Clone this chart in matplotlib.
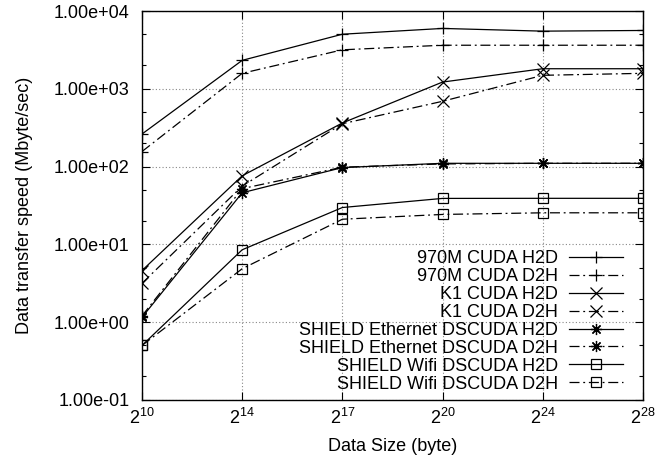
import matplotlib
matplotlib.use("Agg")
import matplotlib.pyplot as plt
from matplotlib.ticker import LogLocator, FuncFormatter, NullFormatter

plt.rcParams["font.family"] = ["Liberation Sans", "DejaVu Sans"]
plt.rcParams["mathtext.fontset"] = "custom"
plt.rcParams["mathtext.rm"] = "Liberation Sans"

# data sizes (byte), shown as powers of two
exposants = [10, 14, 17, 20, 24, 28]

# transfer speed (Mbyte/sec)
m970_h2d = [262, 2320, 5030, 5970, 5510, 5620]
m970_d2h = [156, 1580, 3170, 3630, 3630, 3630]
k1_h2d = [4.6, 76, 363, 1220, 1810, 1810]
k1_d2h = [3.15, 56, 355, 690, 1490, 1580]
eth_h2d = [1.15, 46, 97, 110, 110, 110]
eth_d2h = [1.2, 52, 98, 108, 110, 110]
wifi_h2d = [0.50, 8.5, 29.7, 38.9, 39, 39]
wifi_d2h = [0.50, 4.85, 21, 24.2, 25.4, 25.4]

series = [
    ("970M CUDA H2D", m970_h2d, "+", "-"),
    ("970M CUDA D2H", m970_d2h, "+", "-."),
    ("K1 CUDA H2D", k1_h2d, "x", "-"),
    ("K1 CUDA D2H", k1_d2h, "x", "-."),
    ("SHIELD Ethernet DSCUDA H2D", eth_h2d, (8, 2, 0), "-"),
    ("SHIELD Ethernet DSCUDA D2H", eth_d2h, (8, 2, 0), "-."),
    ("SHIELD Wifi DSCUDA H2D", wifi_h2d, "s", "-"),
    ("SHIELD Wifi DSCUDA D2H", wifi_d2h, "s", "-."),
]

fig = plt.figure(figsize=(6.56, 4.59), dpi=100)
ax = fig.add_axes([0.2165, 0.129, 0.7635, 0.847])

pos = list(range(len(exposants)))
for nom, vals, mk, ls in series:
    ms = 7 if mk == "s" else 8
    line, = ax.plot(pos, vals, color="black", linestyle=ls, linewidth=0.9,
                    marker=mk, markersize=ms, markerfacecolor="none",
                    markeredgecolor="black", markeredgewidth=0.9, label=nom)
    if ls == "-.":
        line.set_dashes((8, 3, 1.5, 3))

ax.set_yscale("log")
ax.set_ylim(0.1, 10000)
ax.set_xlim(0, len(exposants) - 1)
ax.set_xticks(pos)
ax.set_xticklabels([r"$\mathregular{2^{%d}}$" % e for e in exposants])

ax.yaxis.set_major_locator(LogLocator(base=10, numticks=10))
ax.yaxis.set_minor_locator(LogLocator(base=10, subs=(2, 5), numticks=10))
ax.yaxis.set_major_formatter(FuncFormatter(lambda v, p: f"{v:.2e}"))
ax.yaxis.set_minor_formatter(NullFormatter())

ax.tick_params(axis="both", which="both", direction="in", top=True, right=True,
               labelsize=13, color="black")
ax.tick_params(axis="x", which="major", length=6, width=0.8, pad=6)
ax.tick_params(axis="y", which="major", length=6, width=0.8, pad=9)
ax.tick_params(axis="y", which="minor", length=3, width=0.8)
ax.grid(True, which="major", linestyle=(0, (1, 2)), color="#888888", linewidth=0.8)
for s in ax.spines.values():
    s.set_linewidth(1.0)

ax.set_xlabel("Data Size (byte)", fontsize=13, labelpad=7)
ax.set_ylabel("Data transfer speed (Mbyte/sec)", fontsize=13, labelpad=15)

ax.legend(loc="lower right", bbox_to_anchor=(0.975, 0.0), frameon=False,
          markerfirst=False, fontsize=13, handlelength=3.0, handletextpad=0.6,
          labelspacing=0.05, borderaxespad=0.2, borderpad=0.2)

fig.savefig("out.png", dpi=100)
